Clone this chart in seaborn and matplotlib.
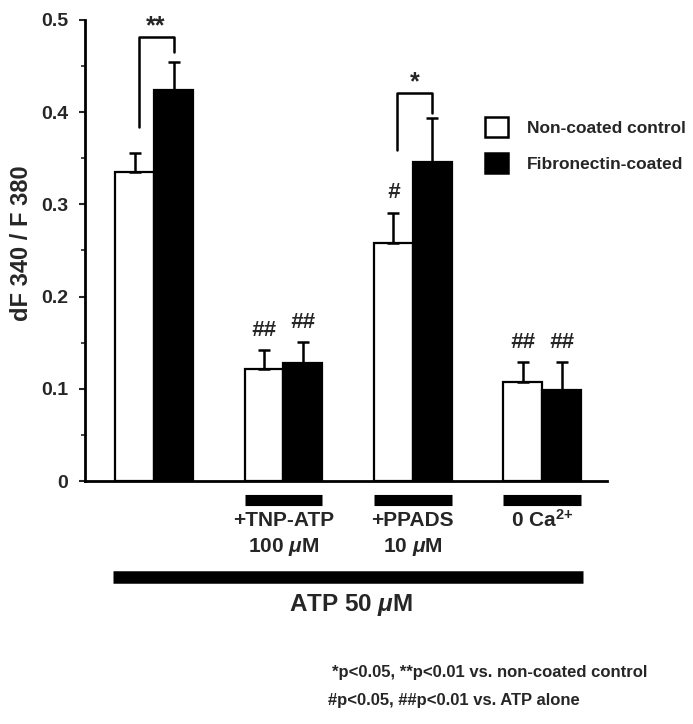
import matplotlib
matplotlib.use("Agg")
import matplotlib.pyplot as plt
import matplotlib.transforms as mtransforms
from matplotlib.patches import Patch
from matplotlib.container import BarContainer
import seaborn as sns
import pandas as pd
import numpy as np

# ---- data ----
conditions = ["ATP alone", "+TNP-ATP 100 µM", "+PPADS 10 µM", "0 Ca2+"]
groups = ["Non-coated control", "Fibronectin-coated"]
noncoated_mean = [0.335, 0.121, 0.258, 0.107]
noncoated_sem = [0.021, 0.021, 0.033, 0.022]
fibro_mean = [0.424, 0.128, 0.346, 0.099]
fibro_sem = [0.030, 0.023, 0.048, 0.030]
noncoated_marks = ["", "##", "#", "##"]
fibro_marks = ["", "##", "", "##"]
treat_line1 = ["", "+TNP-ATP", "+PPADS", "0 Ca$^{2{+}}$"]
treat_line2 = ["", "100 $\\mu$M", "10 $\\mu$M", ""]
yticks = [0, 0.1, 0.2, 0.3, 0.4, 0.5]
ytick_labels = ["0", "0.1", "0.2", "0.3", "0.4", "0.5"]
# significance brackets: (condition index, top, left leg bottom, right leg bottom, label)
brackets = [(0, 0.482, 0.384, 0.465, "**"), (2, 0.421, 0.359, 0.399, "*")]

df = pd.DataFrame({
    "condition": conditions * 2,
    "group": [groups[0]] * 4 + [groups[1]] * 4,
    "value": noncoated_mean + fibro_mean,
})

sns.set_theme(style="white")
plt.rcParams["font.family"] = ["Liberation Sans", "DejaVu Sans"]
plt.rcParams["font.weight"] = "bold"
plt.rcParams["mathtext.fontset"] = "custom"
plt.rcParams["mathtext.rm"] = "Liberation Sans:bold"
plt.rcParams["mathtext.it"] = "Liberation Sans:bold:italic"

fig = plt.figure(figsize=(6.93, 7.24), dpi=100)
ax = fig.add_axes([85 / 693, 1 - 481 / 724, (607 - 85) / 693, (481 - 20) / 724])

sns.barplot(data=df, x="condition", y="value", hue="group", order=conditions,
            hue_order=groups, palette=["white", "black"], width=0.6,
            edgecolor="black", linewidth=1.6, errorbar=None, ax=ax, legend=False,
            saturation=1)

sems = [noncoated_sem, fibro_sem]
marks = [noncoated_marks, fibro_marks]
bar_containers = [c for c in ax.containers if isinstance(c, BarContainer)]
centers = {}
for gi, cont in enumerate(bar_containers):
    for ci, bar in enumerate(cont.patches):
        xc = bar.get_x() + bar.get_width() / 2
        h = bar.get_height()
        centers[(gi, ci)] = xc
        ax.errorbar([xc], [h], yerr=[[0], [sems[gi][ci]]], fmt="none",
                    ecolor="black", elinewidth=1.8, capsize=4, capthick=1.8, zorder=1)
        if marks[gi][ci]:
            ax.text(xc, h + sems[gi][ci] + 0.010, marks[gi][ci], ha="center", va="bottom",
                    fontsize=16, fontstyle="italic", fontweight="bold")

for ci, top, lb, rb, lab in brackets:
    xl = centers[(0, ci)] + 0.03
    xr = centers[(1, ci)]
    ax.plot([xl, xl, xr, xr], [lb, top, top, rb], color="black", lw=1.8, clip_on=False)
    ax.text((xl + xr) / 2, top - 0.002, lab, ha="center", va="bottom", fontsize=18,
            fontweight="bold")

ax.set_xlim(-0.534, 3.5)
ax.set_ylim(0, 0.5)
ax.set_yticks(yticks)
ax.set_yticklabels(ytick_labels, fontsize=14, fontweight="bold")
ax.set_yticks(np.arange(0.05, 0.5, 0.1), minor=True)
ax.tick_params(axis="y", which="major", direction="out", length=4, width=1.5, left=True, pad=8)
ax.tick_params(axis="y", which="minor", direction="out", length=3, width=1.2, left=True)
ax.set_xticks([])
ax.set_xlabel("")
ax.set_ylabel("dF 340 / F 380", fontsize=17, fontweight="bold")
ax.yaxis.set_label_coords(-0.100, 0.515)
for s in ["top", "right"]:
    ax.spines[s].set_visible(False)
for s in ["left", "bottom"]:
    ax.spines[s].set_linewidth(2)
    ax.spines[s].set_color("black")

# treatment bars and labels below axis
trans = mtransforms.blended_transform_factory(ax.transData, ax.transAxes)
for ci in range(1, len(conditions)):
    x0 = centers[(0, ci)] - 0.15
    x1 = centers[(1, ci)] + 0.15
    ax.plot([x0, x1], [-0.041, -0.041], color="black", lw=8, solid_capstyle="butt",
            transform=trans, clip_on=False)
    ax.text(ci, -0.085, treat_line1[ci], transform=trans, ha="center", va="center",
            fontsize=15, fontweight="bold")
    if treat_line2[ci]:
        ax.text(ci, -0.143, treat_line2[ci], transform=trans, ha="center", va="center",
                fontsize=15, fontweight="bold")

# ATP bar
x0 = centers[(0, 0)] - 0.15
x1 = centers[(1, 3)] + 0.15
ax.plot([x0 - 0.015, x1 + 0.015], [-0.208, -0.208], color="black", lw=9,
        solid_capstyle="butt", transform=trans, clip_on=False)
ax.text(1.52, -0.268, "ATP 50 $\\mu$M", transform=trans, ha="center", va="center",
        fontsize=17.5, fontweight="bold")

# legend
handles = [Patch(facecolor="white", edgecolor="black", linewidth=1.8),
           Patch(facecolor="black", edgecolor="black", linewidth=1.8)]
fig.legend(handles, groups, loc="upper left", bbox_to_anchor=(485 / 693, 1 - 117 / 724),
           frameon=False, borderpad=0, borderaxespad=0, handlelength=1.32, handleheight=1.38,
           handletextpad=1.1, labelspacing=0.95, prop={"size": 12.5, "weight": "bold"})

# footnotes
fig.text(332 / 693, 1 - 672 / 724, "*p<0.05, **p<0.01 vs. non-coated control",
         ha="left", va="center", fontsize=12, fontweight="bold")
fig.text(328 / 693, 1 - 701 / 724, "#p<0.05, ##p<0.01 vs. ATP alone",
         ha="left", va="center", fontsize=12, fontweight="bold")

fig.savefig("out.png", dpi=100)
